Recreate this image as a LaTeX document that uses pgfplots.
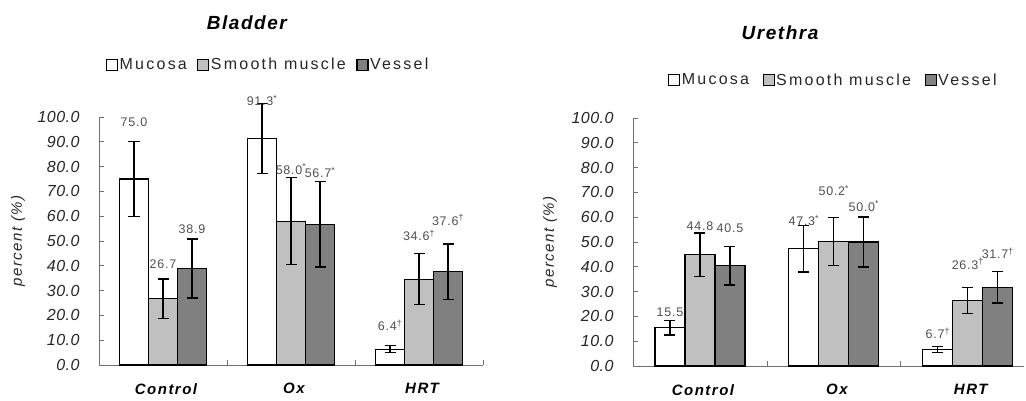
\documentclass[border=0pt]{standalone}
\usepackage{pgfplots}
\pgfplotsset{compat=1.18}
\usepackage{pgfplotstable}
\usepackage{fontspec}
\setmainfont{Liberation Sans}
\newfontfamily\tickfamily[LetterSpace=3]{Liberation Sans}
\newfontfamily\valfamily[LetterSpace=6]{Liberation Sans}
\newfontfamily\legfamily[LetterSpace=14]{Liberation Sans}
\newfontfamily\catfamily[LetterSpace=10]{Liberation Sans}
\newfontfamily\titfamily[LetterSpace=8]{Liberation Sans}
\newfontfamily\ylabfamily[LetterSpace=10]{Liberation Sans}
\definecolor{smooth}{HTML}{C0C0C0}
\definecolor{vessel}{HTML}{808080}
\definecolor{axgray}{HTML}{707070}
\definecolor{valgray}{HTML}{505050}

% columns: value, error, label, label offset above bar top (bp)
\pgfplotstableread{
x m me ml mo s se sl so v ve vl vo
0 75.0 15.0 {75.0} 57 26.7 8.0 {26.7} 35 38.9 11.9 {38.9} 39
1 91.3 14.2 {91.3\textsuperscript{*}} 38 58.0 17.5 {58.0\textsuperscript{*}} 52 56.7 17.2 {56.7\textsuperscript{*}} 52
2 6.4 1.4 {6.4\textsuperscript{\textdagger}} 24 34.6 10.2 {34.6\textsuperscript{\textdagger}} 44 37.6 11.2 {37.6\textsuperscript{\textdagger}} 52
}\bladder

\pgfplotstableread{
x m me ml mo s se sl so v ve vl vo
0 15.5 3.0 {15.5} 15 44.8 8.8 {44.8} 29 40.5 7.8 {40.5} 37
1 47.3 9.4 {47.3\textsuperscript{*}} 28 50.2 9.8 {50.2\textsuperscript{*}} 51 50.0 10.1 {50.0\textsuperscript{*}} 36
2 6.7 1.2 {6.7\textsuperscript{\textdagger}} 16 26.3 5.2 {26.3\textsuperscript{\textdagger}} 37 31.7 6.3 {31.7\textsuperscript{\textdagger}} 34
}\urethra

\pgfplotsset{
  mychart/.style={
    scale only axis, height=248bp,
    ybar=0pt,
    ymin=0, ymax=100, xmin=-0.5,
    axis x line=bottom, axis y line=left,
    axis line style={-, draw=axgray, line width=0.8bp},
    ytick={0,10,...,100},
    tick align=inside, major tick length=5bp,
    tick style={draw=axgray, line width=0.8bp},
    yticklabel style={font=\tickfamily\itshape\fontsize{16bp}{18bp}\selectfont, text=black!85, xshift=-16bp,
      /pgf/number format/.cd, fixed, fixed zerofill, precision=1, assume math mode=true},
    xtick={0.5,1.5,2.5}, xticklabels={},
    extra x ticks={0,1,2}, extra x tick labels={Control,Ox,HRT},
    extra x tick style={major tick length=0pt,
      tick label style={font=\catfamily\bfseries\itshape\fontsize{15bp}{17bp}\selectfont, yshift=-15bp, xshift=3bp}},
    ylabel={percent (\%)},
    every axis y label/.style={rotate=90, anchor=center, font=\ylabfamily\itshape\fontsize{15bp}{17bp}\selectfont, text=black!85},
    clip=false,
    point meta=explicit symbolic,
    nodes near coords,
    nodes near coords style={font=\valfamily\fontsize{12.5bp}{14bp}\selectfont, text=valgray, anchor=center, yshift=\off bp},
    legend columns=3,
    legend image code/.code={\draw[#1, line width=1.1bp] (0bp,-5.5bp) rectangle (11bp,5.5bp);},
    legend style={draw=none, fill=none, anchor=center, font=\legfamily\fontsize{16bp}{18bp}\selectfont, text=black!85,
      /tikz/every odd column/.append style={column sep=0bp},
      nodes={inner sep=1.5bp}},
    title style={anchor=center, yshift=0pt, font=\titfamily\bfseries\itshape\fontsize{19bp}{21bp}\selectfont},
    errs/.style={error bars/.cd, y dir=both, y explicit,
      error bar style={line width=1.2bp, black},
      error mark options={rotate=90, mark size=5.5bp, line width=1.2bp, black}},
  }
}

\begin{document}
\begin{tikzpicture}
\useasboundingbox (0,0) rectangle (1026bp,401bp);
% Bladder
\begin{axis}[mychart, at={(99bp,36bp)}, anchor=south west, width=384bp, xmax=2.5, bar width=29bp,
  ylabel style={at={([xshift=-81bp]axis description cs:0,0.5)}},
  title={Bladder}, title style={at={(axis description cs:0.385,1.355)}},
  legend style={at={(axis description cs:0.44,1.21)}, /tikz/every even column/.append style={column sep=9bp}}]
\addplot[fill=white, draw=black, line width=1.2bp, visualization depends on={\thisrow{mo}\as\off}, errs]
  table[x=x, y=m, y error=me, meta=ml] {\bladder};
\addplot[fill=smooth, draw=black, line width=1.2bp, visualization depends on={\thisrow{so}\as\off}, errs]
  table[x=x, y=s, y error=se, meta=sl] {\bladder};
\addplot[fill=vessel, draw=black, line width=1.2bp, visualization depends on={\thisrow{vo}\as\off}, errs]
  table[x=x, y=v, y error=ve, meta=vl] {\bladder};
\legend{Mucosa, Smooth muscle, Vessel}
\end{axis}
% Urethra
\begin{axis}[mychart, at={(633bp,35bp)}, anchor=south west, width=391bp, xmax=2.42, bar width=30bp,
  ylabel style={at={([xshift=-83bp]axis description cs:0,0.5)}},
  title={Urethra}, title style={at={(axis description cs:0.376,1.319)}},
  legend style={at={(axis description cs:0.512,1.153)}, /tikz/every even column/.append style={column sep=12bp}}]
\addplot[fill=white, draw=black, line width=1.2bp, visualization depends on={\thisrow{mo}\as\off}, errs]
  table[x=x, y=m, y error=me, meta=ml] {\urethra};
\addplot[fill=smooth, draw=black, line width=1.2bp, visualization depends on={\thisrow{so}\as\off}, errs]
  table[x=x, y=s, y error=se, meta=sl] {\urethra};
\addplot[fill=vessel, draw=black, line width=1.2bp, visualization depends on={\thisrow{vo}\as\off}, errs]
  table[x=x, y=v, y error=ve, meta=vl] {\urethra};
\legend{Mucosa, Smooth muscle, Vessel}
\end{axis}
\end{tikzpicture}
\end{document}
